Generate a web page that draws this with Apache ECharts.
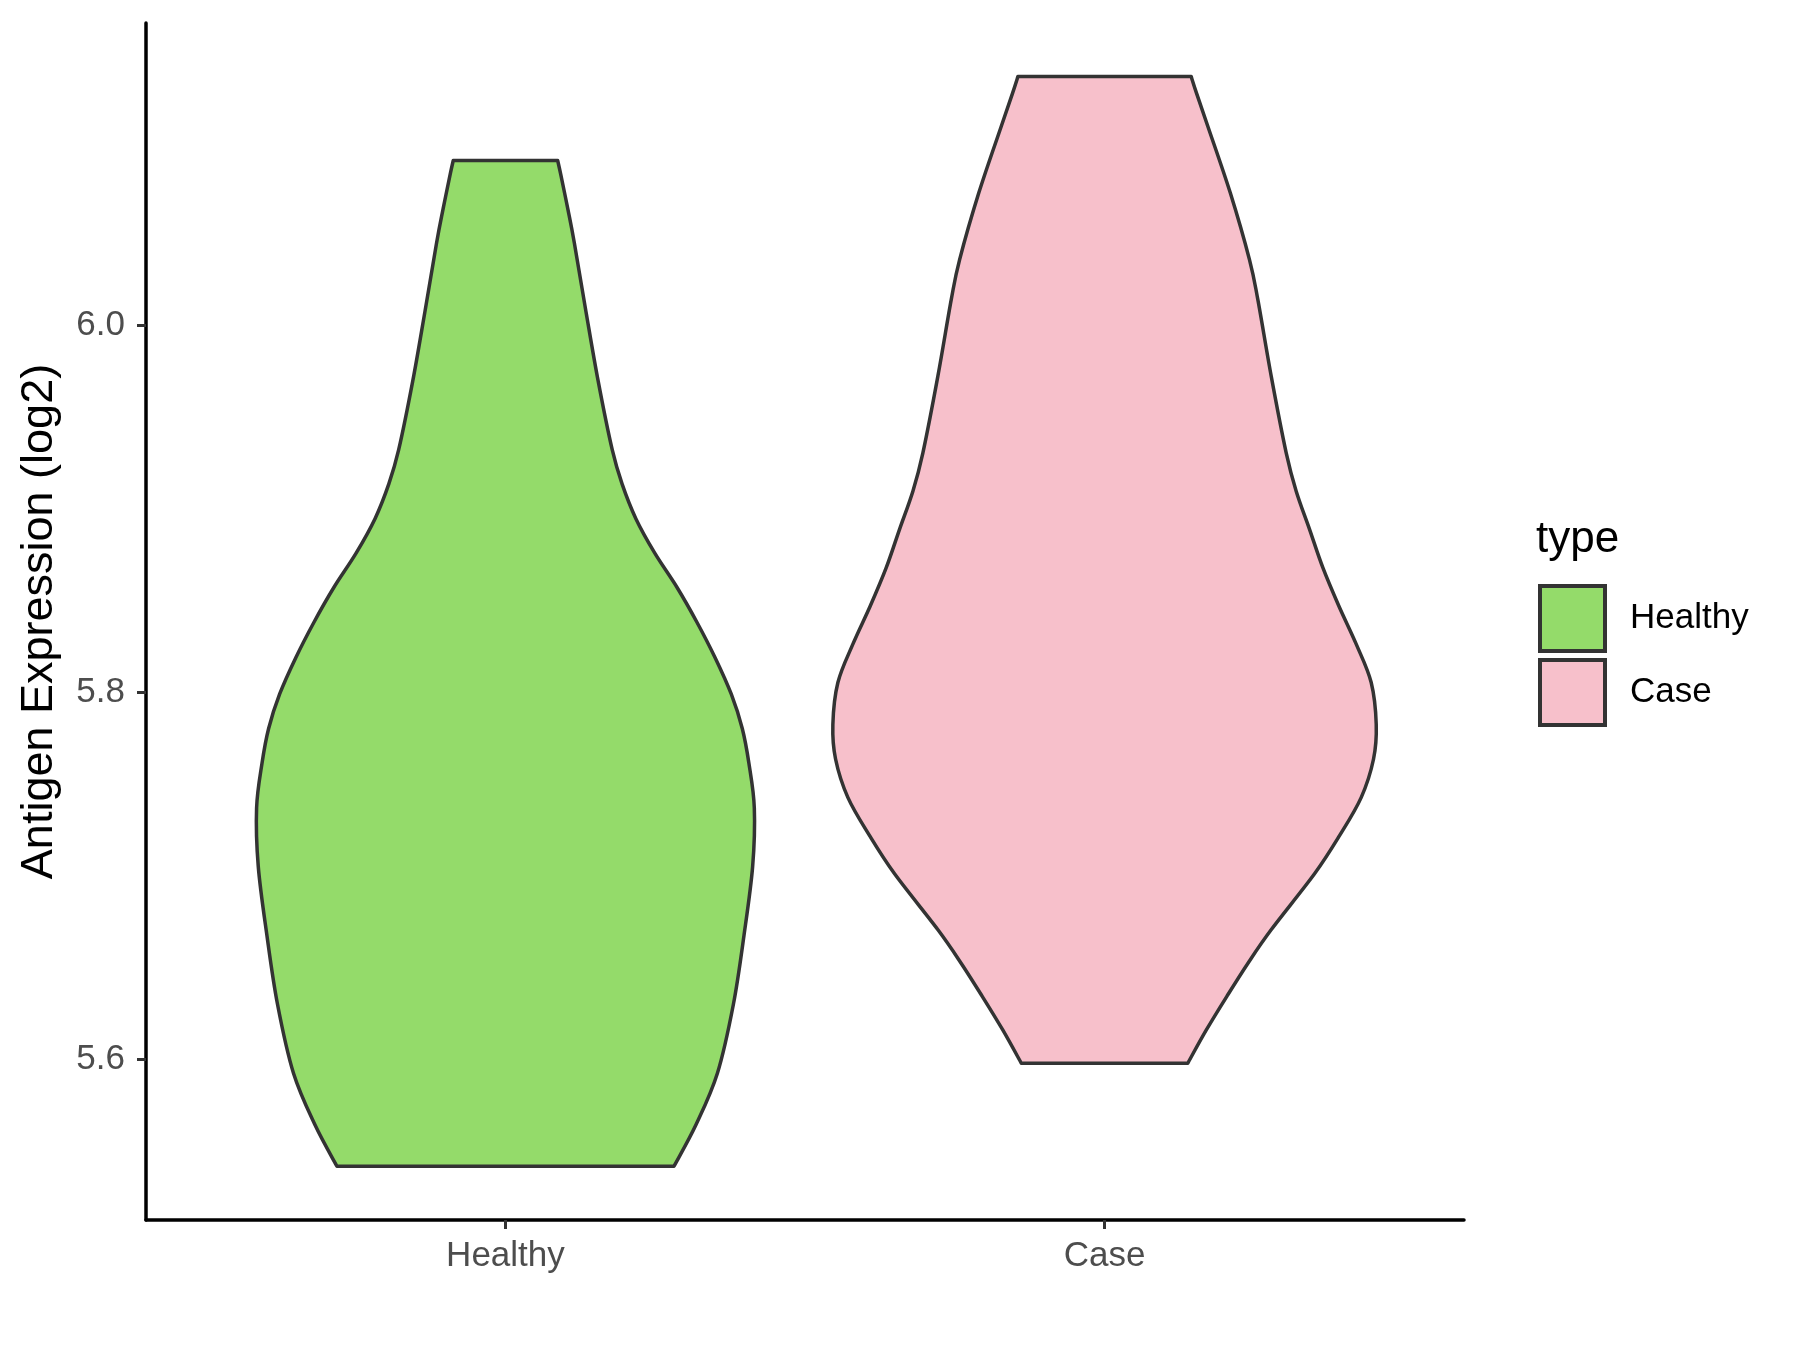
<!DOCTYPE html>
<html><head><meta charset="utf-8">
<script src="https://cdn.jsdelivr.net/npm/echarts@6/dist/echarts.min.js"></script>
<style>html,body{margin:0;padding:0;background:#fff}#c{width:1800px;height:1350px}</style>
</head><body><div id="c"></div>
<script>
// ---- data ----
const categories = ['Healthy', 'Case'];
const categoryPos = [1, 2];
const yTicks = [5.6, 5.8, 6.0];
// violin outlines: expression value and half-width (in category units), top to bottom
const healthyY = [6.0901, 6.0826, 6.0638, 6.0451, 6.0075, 5.9699, 5.9324, 5.9136, 5.8948, 5.8760, 5.8573, 5.8385, 5.8190, 5.7991, 5.7803, 5.7616, 5.7371, 5.7052, 5.6677, 5.6301, 5.5925, 5.5644, 5.5418];
const healthyHalfWidth = [0.0871, 0.0922, 0.1040, 0.1150, 0.1345, 0.1547, 0.1782, 0.1948, 0.2177, 0.2493, 0.2865, 0.3194, 0.3500, 0.3770, 0.3954, 0.4063, 0.4154, 0.4126, 0.3982, 0.3805, 0.3538, 0.3180, 0.2813];
const caseY = [6.1359, 6.1268, 6.1086, 6.0723, 6.0359, 6.0142, 5.9725, 5.9307, 5.9098, 5.8890, 5.8681, 5.8472, 5.8264, 5.8055, 5.7826, 5.7638, 5.7429, 5.7220, 5.7012, 5.6707, 5.6525, 5.6343, 5.6161, 5.5980];
const caseHalfWidth = [0.1445, 0.1535, 0.1725, 0.2100, 0.2420, 0.2559, 0.2782, 0.3032, 0.3199, 0.3422, 0.3644, 0.3911, 0.4201, 0.4451, 0.4535, 0.4490, 0.4285, 0.3922, 0.3505, 0.2781, 0.2394, 0.2039, 0.1699, 0.1390];
const fillColors = ['#94DB6A', '#F7C0CB'];

const FONT = "'Liberation Sans', Arial, Helvetica, sans-serif";

function sidePath(pts) {
  let d = '';
  for (let i = 0; i < pts.length - 1; i++) {
    const p0 = pts[i - 1] || pts[i], p1 = pts[i], p2 = pts[i + 1], p3 = pts[i + 2] || pts[i + 1];
    const c1 = [p1[0] + (p2[0] - p0[0]) / 6, p1[1] + (p2[1] - p0[1]) / 6];
    const c2 = [p2[0] - (p3[0] - p1[0]) / 6, p2[1] - (p3[1] - p1[1]) / 6];
    d += ' C' + c1[0] + ',' + c1[1] + ' ' + c2[0] + ',' + c2[1] + ' ' + p2[0] + ',' + p2[1];
  }
  return d;
}
function makeRender(ys, hws, color) {
  return function (params, api) {
    const c = api.value(0);
    const right = ys.map((y, i) => api.coord([c + hws[i], y]));
    const left = ys.map((y, i) => api.coord([c - hws[i], y])).reverse();
    let d = 'M' + right[0][0] + ',' + right[0][1] + sidePath(right);
    d += ' L' + left[0][0] + ',' + left[0][1] + sidePath(left) + ' Z';
    return {
      type: 'path',
      shape: { pathData: d },
      style: { fill: color, stroke: '#333333', lineWidth: 3.5, lineJoin: 'round' }
    };
  };
}

const chart = echarts.init(document.getElementById('c'), null, { renderer: 'canvas' });
chart.setOption({
  animation: false,
  backgroundColor: '#ffffff',
  title: {
    text: 'type', left: 1531, top: 513,
    textStyle: { fontFamily: FONT, fontSize: 44, fontWeight: 'normal', color: '#000000' }
  },
  legend: {
    orient: 'vertical', left: 1533, top: 579,
    itemWidth: 65, itemHeight: 65, itemGap: 5,
    icon: 'rect',
    itemStyle: { borderColor: '#333333', borderWidth: 4 },
    textStyle: { fontFamily: FONT, fontSize: 35, color: '#000000', padding: [0, 0, 0, 20] },
    data: categories
  },
  grid: { left: 146, right: 336, top: 23, bottom: 130, containLabel: false, outerBoundsMode: 'none' },
  xAxis: {
    type: 'value', min: 0.4, max: 2.6,
    splitLine: { show: false },
    axisLine: { show: true, onZero: false, lineStyle: { color: '#000000', width: 3.5 } },
    axisTick: { show: true, customValues: categoryPos, length: 9, lineStyle: { color: '#333333', width: 3 } },
    axisLabel: {
      show: true, customValues: categoryPos, margin: 19,
      formatter: v => categories[Math.round(v) - 1] || '',
      fontFamily: FONT, fontSize: 35, color: '#4D4D4D'
    }
  },
  yAxis: {
    type: 'value', min: 5.5125, max: 6.165,
    name: 'Antigen Expression (log2)', nameLocation: 'middle', nameGap: 84,
    nameTextStyle: { fontFamily: FONT, fontSize: 45, color: '#000000' },
    splitLine: { show: false },
    axisLine: { show: true, onZero: false, lineStyle: { color: '#000000', width: 3.5 } },
    axisTick: { show: true, customValues: yTicks, length: 9, lineStyle: { color: '#333333', width: 3 } },
    axisLabel: {
      show: true, customValues: yTicks, margin: 21,
      formatter: v => v.toFixed(1),
      fontFamily: FONT, fontSize: 35, color: '#4D4D4D'
    }
  },
  series: [
    {
      type: 'custom', name: categories[0],
      itemStyle: { color: fillColors[0], borderColor: '#333333', borderWidth: 3 },
      renderItem: makeRender(healthyY, healthyHalfWidth, fillColors[0]),
      encode: { x: 0, y: 1 },
      data: [[categoryPos[0], healthyY[0]]]
    },
    {
      type: 'custom', name: categories[1],
      itemStyle: { color: fillColors[1], borderColor: '#333333', borderWidth: 3 },
      renderItem: makeRender(caseY, caseHalfWidth, fillColors[1]),
      encode: { x: 0, y: 1 },
      data: [[categoryPos[1], caseY[0]]]
    }
  ]
});
</script>
</body></html>
